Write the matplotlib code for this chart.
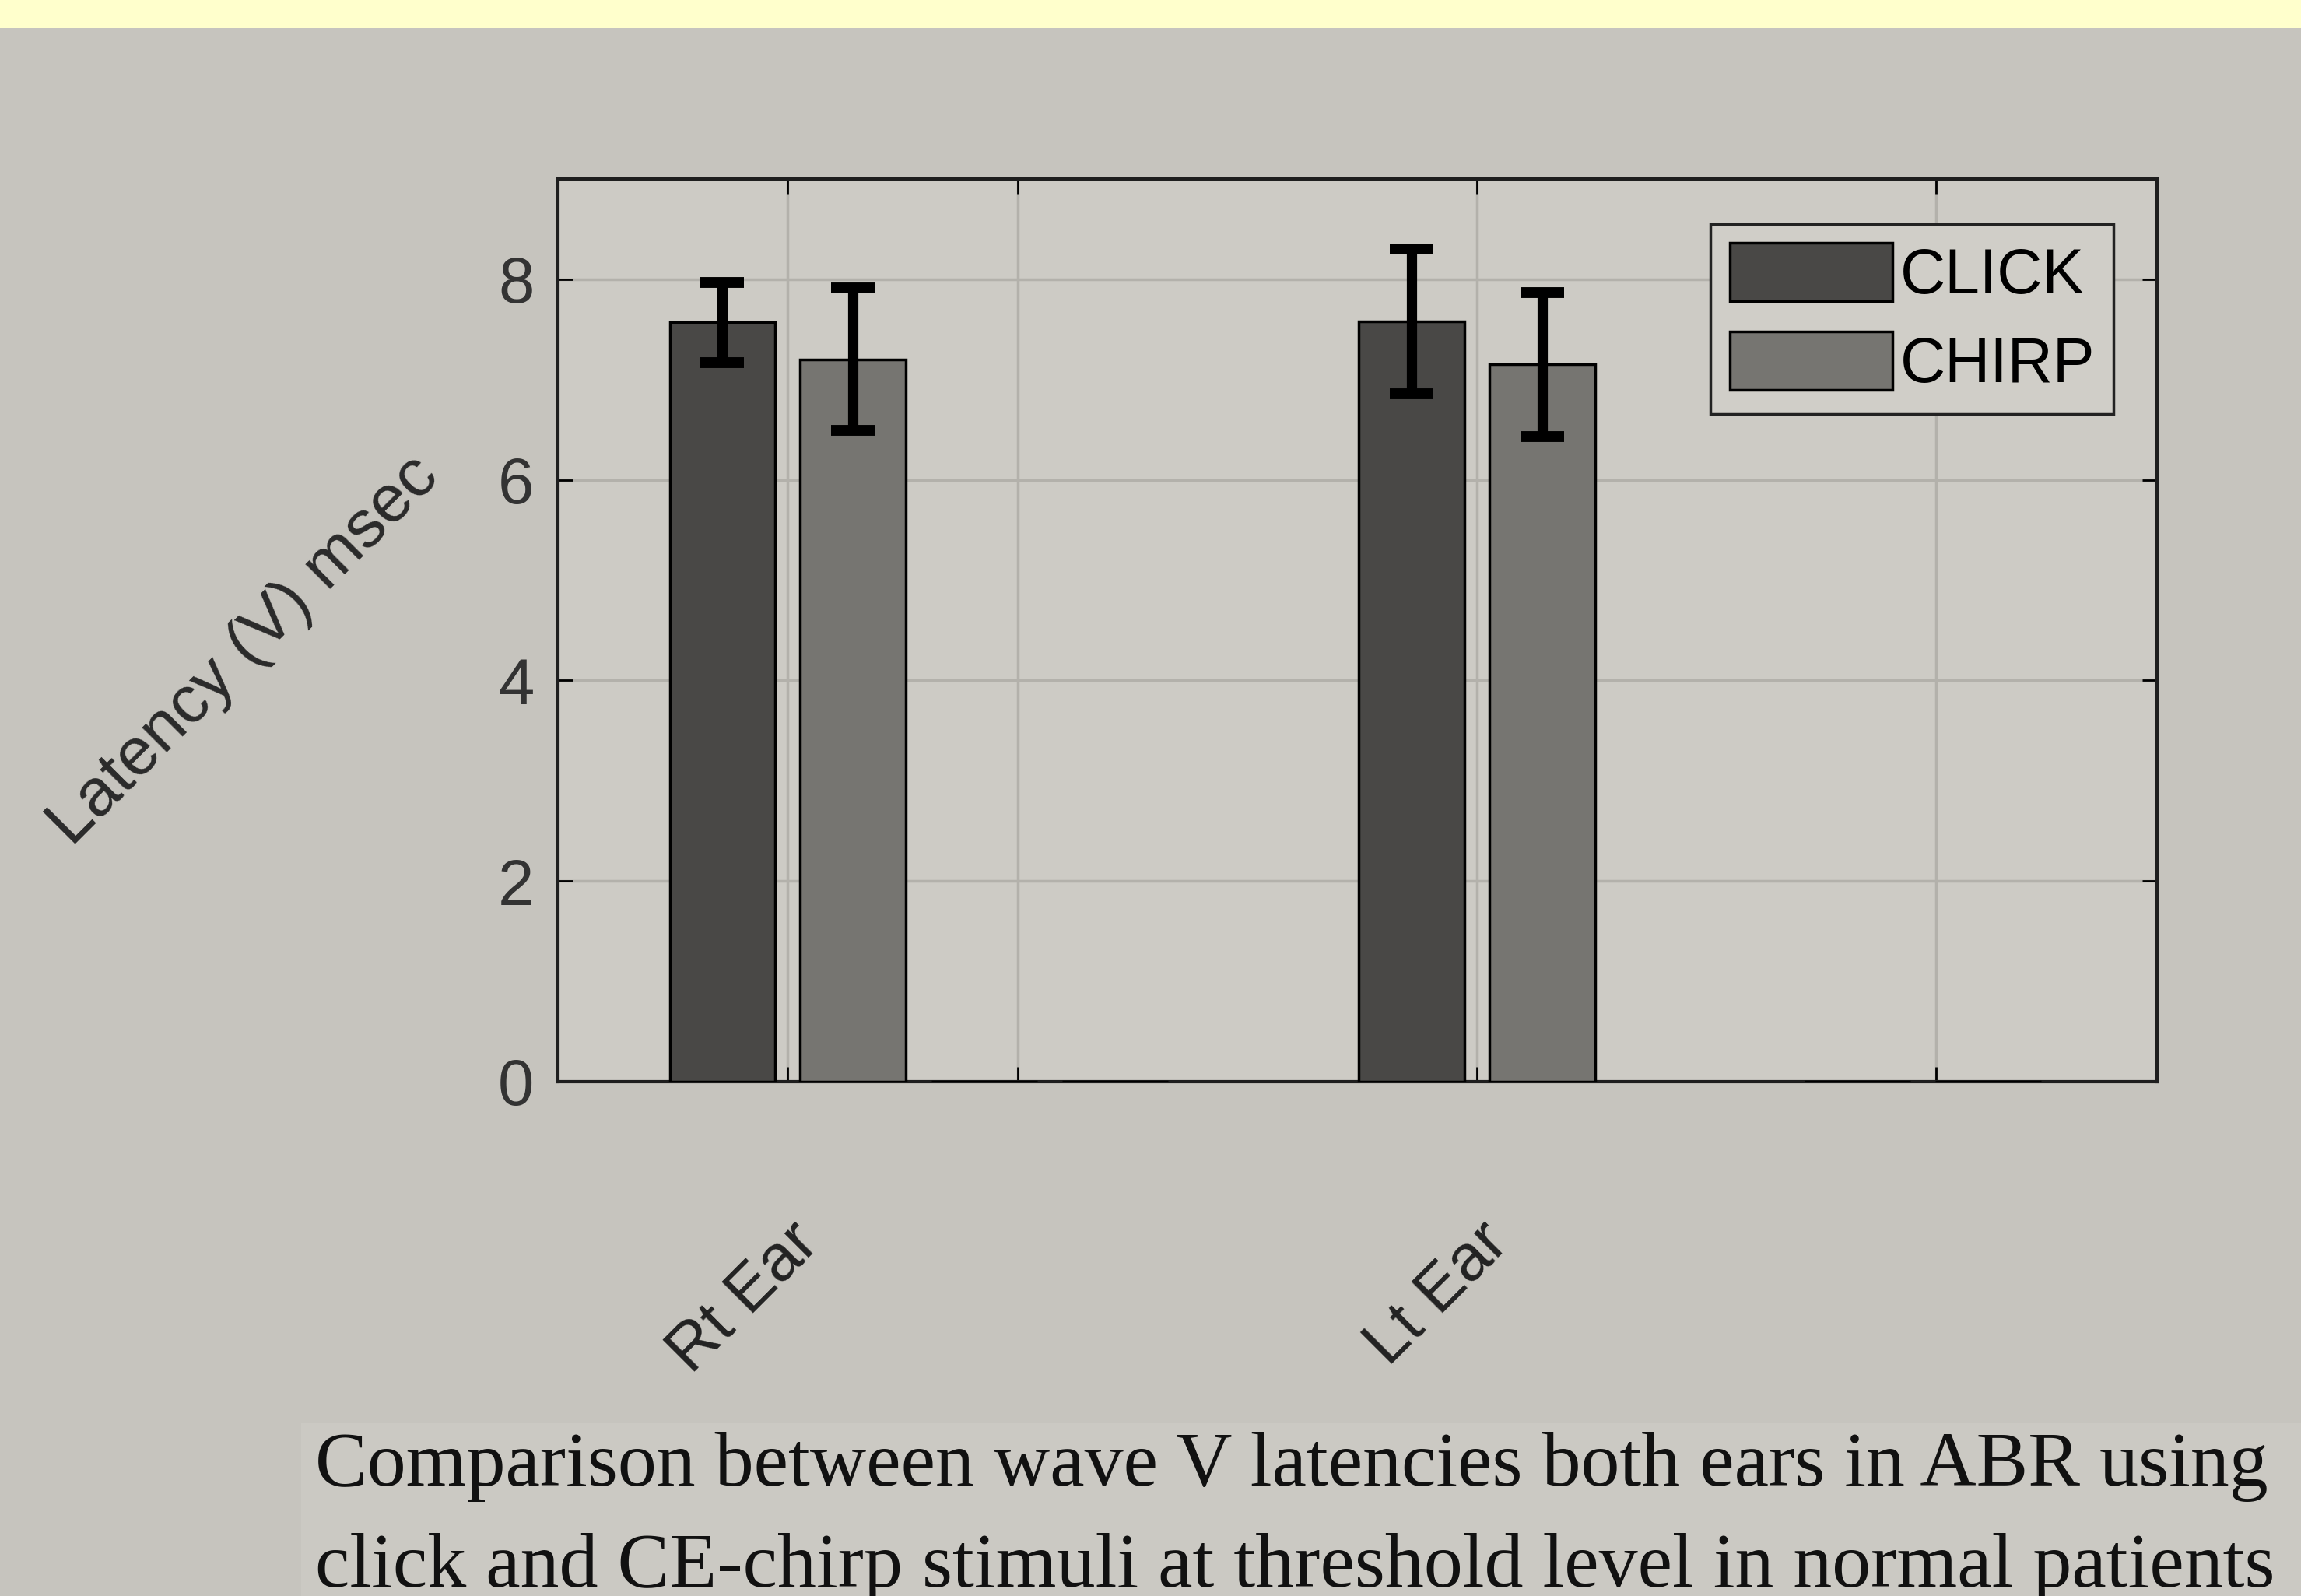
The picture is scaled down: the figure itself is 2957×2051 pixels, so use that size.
import numpy as np
import matplotlib
matplotlib.use("Agg")
import matplotlib.pyplot as plt
from matplotlib.patches import Rectangle

# Data (wave V latency, msec)
groups = ["Rt Ear", "", "Lt Ear", ""]
click_mean = [7.57, 0.0, 7.58, 0.0]
click_err = [0.40, 0.0, 0.72, 0.0]
chirp_mean = [7.20, 0.0, 7.15, 0.0]
chirp_err = [0.71, 0.0, 0.72, 0.0]
series_names = ["CLICK", "CHIRP"]
yticks = [0, 2, 4, 6, 8]
caption = ["Comparison between wave V latencies both ears in ABR using",
           "click and CE-chirp stimuli at threshold level in normal patients"]

# layout (x positions of the groups on the axis)
group_x = np.array([0.5, 1.07, 2.0, 2.97])
bar_w = 0.23
offset = 0.142

paper = "#c6c4be"
click_col = "#494846"
chirp_col = "#767571"

plt.rcParams['font.family'] = ['Liberation Sans', 'DejaVu Sans']

fig = plt.figure(figsize=(29.57, 20.51), dpi=100)
fig.patch.set_facecolor(paper)

# yellow strip at the top of the screenshot
fig.patches.append(Rectangle((0, 0.9824), 1, 0.0176, transform=fig.transFigure,
                             facecolor="#ffffcc", edgecolor="none", zorder=0))
# slightly lighter box behind the caption
fig.patches.append(Rectangle((0.131, 0), 0.869, 0.108, transform=fig.transFigure,
                             facecolor="#cbc9c3", edgecolor="none", zorder=0))

ax = fig.add_axes([0.2425, 0.3223, 0.6949, 0.5656])
ax.set_facecolor("#cdcbc5")

ax.bar(group_x - offset, click_mean, bar_w, color=click_col, edgecolor="black",
       linewidth=2.5, label=series_names[0], zorder=3)
ax.bar(group_x + offset, chirp_mean, bar_w, color=chirp_col, edgecolor="black",
       linewidth=2.5, label=series_names[1], zorder=3)

ax.errorbar(group_x[[0, 2]] - offset, np.array(click_mean)[[0, 2]],
            yerr=np.array(click_err)[[0, 2]], fmt="none", ecolor="black",
            elinewidth=9.5, capsize=20, capthick=10, zorder=4)
ax.errorbar(group_x[[0, 2]] + offset, np.array(chirp_mean)[[0, 2]],
            yerr=np.array(chirp_err)[[0, 2]], fmt="none", ecolor="black",
            elinewidth=9.5, capsize=20, capthick=10, zorder=4)

ax.set_xlim(0, 3.48)
ax.set_ylim(0, 9)
ax.set_yticks(yticks)
ax.set_xticks([0.5, 1.0, 2.0, 3.0])
ax.set_xticklabels([groups[0], "", groups[2], ""], rotation=45, ha="right",
                   rotation_mode="anchor", fontsize=60, color="#222222")
ax.tick_params(axis="x", pad=120)
ax.tick_params(axis="y", labelsize=60, labelcolor="#333333", pad=22)
ax.tick_params(direction="in", length=14, width=2, top=True, right=True)
ax.grid(True, color="#b3b1ab", linewidth=2.5, zorder=0)
ax.set_axisbelow(True)
for s in ax.spines.values():
    s.set_linewidth(3)
    s.set_color("#1e1e1e")

leg = ax.legend(loc="upper right", bbox_to_anchor=(0.973, 0.95), borderaxespad=0,
                fontsize=58, handlelength=2.6, handleheight=1.05, handletextpad=0.12,
                labelspacing=0.4, borderpad=0.3, fancybox=False, framealpha=1,
                facecolor="#d0cec8", edgecolor="#222222")
leg.get_frame().set_linewidth(2.5)

fig.text(0.106, 0.592, "Latency (V) msec", rotation=45, ha="center", va="center",
         fontsize=62, color="#2a2a2a")

fig.text(0.137, 0.069, caption[0], ha="left", va="baseline", fontsize=72,
         family="Liberation Serif", color="#111111")
fig.text(0.137, 0.006, caption[1], ha="left", va="baseline", fontsize=72,
         family="Liberation Serif", color="#111111")

fig.savefig("out.png", dpi=100, facecolor=fig.get_facecolor())
